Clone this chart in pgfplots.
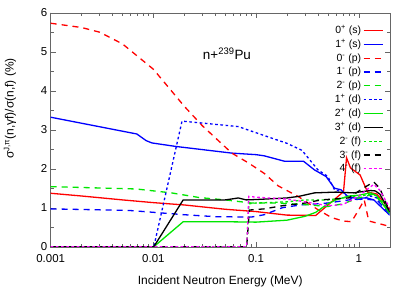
\documentclass[border=0pt]{standalone}
\usepackage{pgfplots}
\pgfplotsset{compat=1.18}
\usepackage{fontspec}
\setmainfont{Liberation Sans}
\definecolor{gred}{RGB}{255,0,0}
\definecolor{gblue}{RGB}{0,0,255}
\definecolor{ggreen}{RGB}{0,230,0}
\definecolor{gmag}{RGB}{255,0,255}
\tikzset{
  dsh/.style={dash pattern=on 6bp off 5bp},
  dtt/.style={dash pattern=on 2.6bp off 2.6bp},
}
\begin{document}
\begin{tikzpicture}
\begin{axis}[
  scale only axis, width=339bp, height=234bp,
  xmode=log, xmin=0.001, xmax=2, ymin=0, ymax=6,
  ytick={0,1,2,3,4,5,6}, minor ytick={0.5,1.5,2.5,3.5,4.5,5.5},
  xtick={0.001,0.01,0.1,1}, xticklabels={0.001,0.01,0.1,1},
  tick align=inside,
  major tick length=5bp, minor tick length=3bp,
  axis line style={black!60},
  every tick/.style={black!60},
  tick label style={font=\fontsize{11.5}{14}\selectfont},
  xticklabel style={yshift=-4bp},
  /pgf/number format/assume math mode=true,
  xlabel={Incident Neutron Energy (MeV)},
  ylabel={σ\textsuperscript{J,π}(n,γf)/σ(n,f) (\%)},
  label style={font=\fontsize{12}{14}\selectfont},
  ylabel style={at={(axis description cs:-0.12,0.59)}, anchor=center},
  xlabel style={at={(axis description cs:0.5,-0.15)}, anchor=center},
  legend style={draw=none, fill=none, at={(rel axis cs:0.982,0.955)}, anchor=north east,
    font=\fontsize{10.5}{12}\selectfont, inner sep=0pt,
    row sep=0.5bp, cells={anchor=east}},
  legend image code/.code={\draw[#1] (0bp,0bp) -- (19bp,0bp);},
  legend plot pos=right,
  every axis plot/.append style={line width=1.3bp},
]
% 0+ (s)
\addplot[color=gred] coordinates {(0.001,1.37)(0.002,1.30)(0.005,1.2)(0.01,1.13)(0.02,1.07)(0.05,0.96)(0.1,0.9)(0.2,0.81)(0.38,0.8)(0.71,1.41)(0.76,2.28)(0.83,2.02)(1.03,1.84)(1.15,1.55)(1.22,1.4)(1.5,1.35)(2,0.95)};
\addlegendentry{0\textsuperscript{+} (s)}
% 1+ (s)
\addplot[color=gblue] coordinates {(0.001,3.32)(0.0069,2.89)(0.0085,2.72)(0.0097,2.66)(0.0166,2.57)(0.058,2.4)(0.1,2.36)(0.12,2.33)(0.19,2.19)(0.29,2.19)(0.37,1.97)(0.48,1.8)(0.58,1.5)(0.67,1.46)(0.78,1.29)(0.9,1.25)(1.2,1.25)(1.4,1.2)(2,0.81)};
\addlegendentry{1\textsuperscript{+} (s)}
% 0- (p)
\addplot[color=gred, dsh] coordinates {(0.001,5.73)(0.002,5.62)(0.003,5.5)(0.005,5.2)(0.01,4.55)(0.02,3.6)(0.03,3.1)(0.058,2.4)(0.084,2.15)(0.12,1.88)(0.164,1.56)(0.26,1.28)(0.32,1.12)(0.4,0.95)(0.54,0.75)(0.7,0.66)(0.85,0.64)(1.0,0.95)(1.13,1.2)(1.25,0.66)(2,0.52)};
\addlegendentry{0\textsuperscript{-} (p)}
% 1- (p)
\addplot[color=gblue, dsh] coordinates {(0.001,0.97)(0.0058,0.93)(0.02,0.82)(0.04,0.77)(0.09,0.76)(0.12,0.82)(0.18,1.0)(0.27,1.07)(0.5,1.12)(0.8,1.2)(1.0,1.22)(1.5,1.2)(2,0.85)};
\addlegendentry{1\textsuperscript{-} (p)}
% 2- (p)
\addplot[color=ggreen, dsh] coordinates {(0.001,1.54)(0.0068,1.48)(0.015,1.38)(0.028,1.26)(0.05,1.2)(0.09,1.12)(0.16,1.12)(0.3,1.08)(0.5,1.03)(0.7,1.1)(1.0,1.25)(1.4,1.35)(2,0.9)};
\addlegendentry{2\textsuperscript{-} (p)}
% 1+ (d)
\addplot[color=gblue, dtt] coordinates {(0.001,0)(0.0101,0)(0.019,3.22)(0.03,3.17)(0.067,3.08)(0.12,2.85)(0.2,2.65)(0.28,2.47)(0.4,1.97)(0.5,1.8)(0.58,1.46)(0.7,1.4)(0.8,1.25)(1.0,1.2)(1.3,1.3)(1.5,1.25)(2,0.9)};
\addlegendentry{1\textsuperscript{+} (d)}
% 2+ (d)
\addplot[color=ggreen] coordinates {(0.001,0)(0.0101,0)(0.0195,0.64)(0.05,0.64)(0.1,0.63)(0.2,0.68)(0.3,0.78)(0.38,0.88)(0.5,1.1)(0.6,1.2)(0.8,1.3)(1.0,1.32)(1.3,1.38)(1.5,1.3)(2,0.85)};
\addlegendentry{2\textsuperscript{+} (d)}
% 3+ (d)
\addplot[color=black] coordinates {(0.001,0)(0.0101,0)(0.0195,1.2)(0.05,1.2)(0.06,1.23)(0.067,1.25)(0.08,1.2)(0.1,1.21)(0.2,1.25)(0.26,1.29)(0.37,1.38)(0.6,1.4)(0.73,1.39)(0.9,1.38)(1.0,1.4)(1.3,1.44)(1.45,1.43)(1.6,1.35)(2,0.9)};
\addlegendentry{3\textsuperscript{+} (d)}
% 2- (f)
\addplot[color=ggreen, dtt] coordinates {(0.001,0)(0.081,0)(0.085,1.1)(0.1,1.12)(0.2,1.15)(0.3,1.2)(0.5,1.2)(0.7,1.25)(1.0,1.3)(1.4,1.35)(2,1.0)};
\addlegendentry{2\textsuperscript{-} (f)}
% 3- (f)
\addplot[color=black, dsh] coordinates {(0.001,0)(0.081,0)(0.086,0.94)(0.12,0.97)(0.18,1.05)(0.3,1.12)(0.43,1.2)(0.8,1.25)(1.1,1.5)(1.4,1.66)(1.6,1.5)(2,0.9)};
\addlegendentry{3\textsuperscript{-} (f)}
% 4- (f)
\addplot[color=gmag, dtt] coordinates {(0.001,0)(0.081,0)(0.085,1.29)(0.1,1.27)(0.2,1.22)(0.3,1.15)(0.5,1.05)(0.7,1.08)(1.0,1.3)(1.4,1.6)(1.6,1.45)(2,1.0)};
\addlegendentry{4\textsuperscript{-} (f)}
\node[anchor=base, font=\fontsize{13.5}{15}\selectfont] at (rel axis cs:0.52,0.80) {n+\textsuperscript{239}Pu};
\end{axis}
\pgfresetboundingbox
\path (current axis.south west) ++(-50.7bp,-44.3bp) rectangle ++(415bp,291bp);
\end{tikzpicture}
\end{document}
